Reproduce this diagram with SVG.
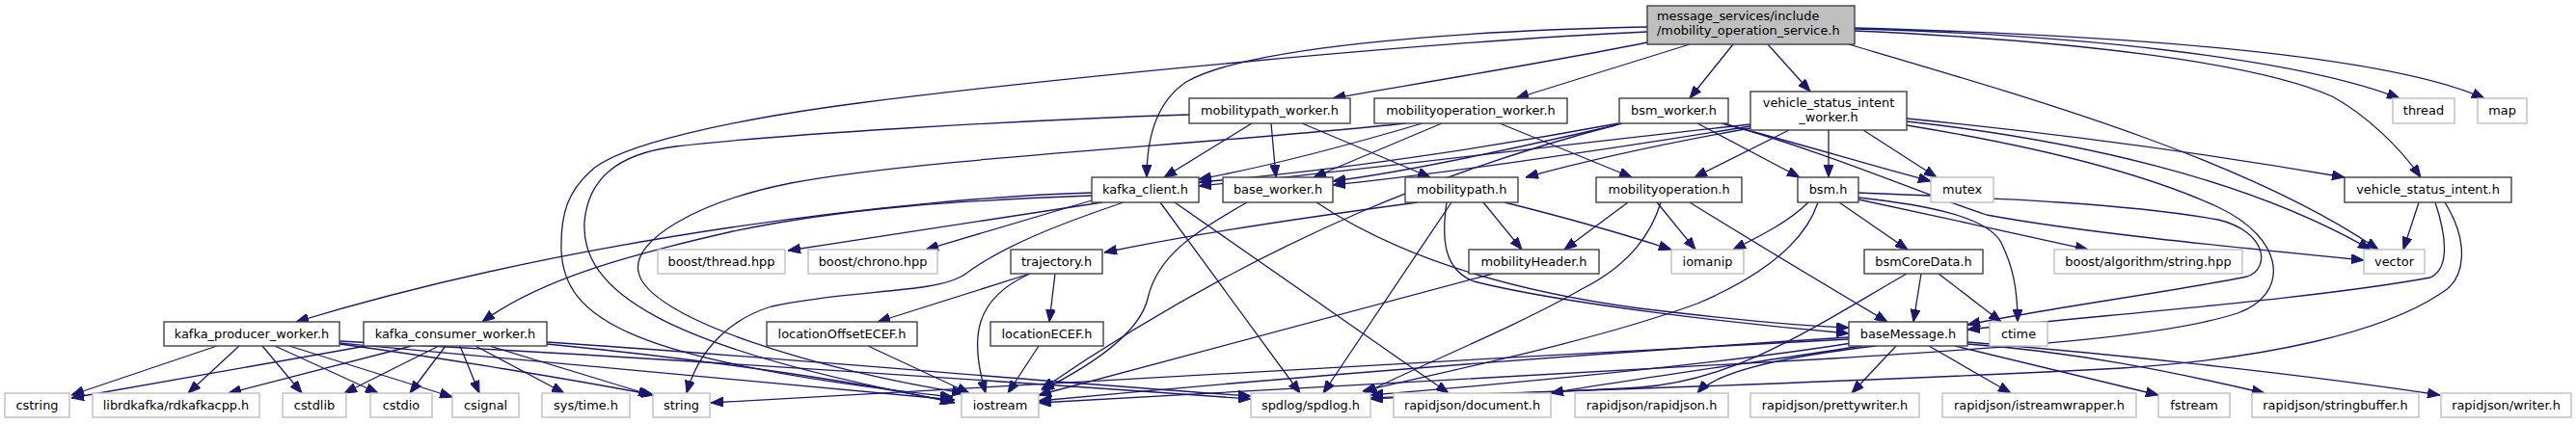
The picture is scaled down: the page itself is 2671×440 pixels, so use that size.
<svg xmlns="http://www.w3.org/2000/svg" width="2671" height="440" viewBox="0 0 2671 440">
<style>
.node rect{fill:#ffffff;stroke:#404040;stroke-width:1.4}
.ext rect{fill:#ffffff;stroke:#bfbfbf;stroke-width:1.4}
.root rect{fill:#bfbfbf;stroke:#404040;stroke-width:1.4}
text{font-family:"DejaVu Sans","Noto Sans",sans-serif;font-size:12.9px;fill:#000000;text-anchor:middle}
text.l{text-anchor:start}
#edges path{fill:none;stroke:#191970;stroke-width:1.3;marker-end:url(#arr)}
</style>
<defs>
<marker id="arr" markerWidth="13" markerHeight="10" refX="13" refY="5" orient="auto" markerUnits="userSpaceOnUse"><path d="M0,0 L13,5 L0,10 z" fill="#191970" stroke="#191970" stroke-width="1"/></marker>
</defs>
<rect width="2671" height="440" fill="#ffffff"/>
<g id="edges">
<path d="M1708,28 C1500,32 1290,50 1230,85 C1200,105 1189,140 1189,184"/>
<path d="M1708,33 C1500,42 1100,80 890,107 C760,124 640,150 612,178 C590,198 581,220 582,260 C585,330 650,375 988,412"/>
<path d="M1708,44 C1620,62 1480,85 1382,102"/>
<path d="M1752,46 L1572,102"/>
<path d="M1797,46 L1752,102"/>
<path d="M1833,46 L1877,95"/>
<path d="M1923,30 C2150,36 2380,60 2488,102"/>
<path d="M1923,29 C2250,38 2480,60 2576,102"/>
<path d="M1923,32 C2150,42 2340,65 2418,100 C2455,120 2490,155 2510,184"/>
<path d="M1917,46 C2100,100 2330,165 2466,259"/>
<path d="M1298,128 L1207,184"/>
<path d="M1318,128 L1323,184"/>
<path d="M1350,128 L1483,184"/>
<path d="M1233,119 C1050,125 800,140 700,152 C640,160 610,185 606,230 C602,300 680,360 988,417"/>
<path d="M1475,128 C1400,150 1320,172 1243,186"/>
<path d="M1495,128 L1362,184"/>
<path d="M1555,128 L1692,184"/>
<path d="M1458,128 C1250,150 950,165 820,190 C720,210 655,250 662,282 C670,330 850,385 1000,408"/>
<path d="M1678,128 C1550,152 1380,178 1243,189"/>
<path d="M1675,130 C1580,152 1460,178 1382,188"/>
<path d="M1760,128 L1866,184"/>
<path d="M1785,128 C1870,150 1940,172 2002,188"/>
<path d="M1682,128 C1520,170 1320,240 1080,404"/>
<path d="M1787,128 C1900,160 1990,200 2060,223 C2150,240 2300,255 2451,270"/>
<path d="M1815,129 C1600,152 1400,178 1243,193"/>
<path d="M1815,131 C1650,158 1480,182 1382,192"/>
<path d="M1815,133 C1720,150 1640,168 1582,184"/>
<path d="M1855,135 L1757,184"/>
<path d="M1896,135 L1896,184"/>
<path d="M1932,135 L2008,184"/>
<path d="M1977,123 C2200,145 2350,170 2431,184"/>
<path d="M1977,126 C2150,145 2330,185 2458,259"/>
<path d="M1977,130 C2100,150 2220,178 2300,215 C2370,248 2375,305 2320,325 C2250,348 2100,360 1900,372 C1600,390 1300,405 1077,418"/>
<path d="M1875,210 C1855,230 1825,245 1797,259"/>
<path d="M1907,210 L1978,259"/>
<path d="M1885,210 C1872,250 1830,285 1760,315 C1650,355 1500,385 1413,406"/>
<path d="M1927,205 C2000,213 2058,225 2074,250 C2087,275 2092,300 2092,334"/>
<path d="M1927,207 C1990,220 2100,245 2165,259"/>
<path d="M1927,200 C2050,205 2200,210 2300,228 C2350,240 2355,278 2330,287 C2250,303 2110,322 2040,337"/>
<path d="M2508,210 L2492,259"/>
<path d="M2525,210 C2535,240 2542,278 2520,288 C2400,310 2200,325 2040,342"/>
<path d="M2535,210 C2560,250 2558,290 2530,305 C2470,345 2350,372 2200,382 C1900,398 1600,406 1421,413"/>
<path d="M1470,210 C1380,222 1250,240 1145,262"/>
<path d="M1538,210 L1578,259"/>
<path d="M1560,210 C1620,225 1690,245 1733,259"/>
<path d="M1505,210 L1372,408"/>
<path d="M1500,210 C1494,250 1498,280 1528,292 C1620,315 1800,336 1917,346"/>
<path d="M1688,210 L1622,259"/>
<path d="M1718,210 L1758,259"/>
<path d="M1722,210 C1710,250 1680,280 1640,300 C1570,340 1470,380 1415,408"/>
<path d="M1752,210 C1800,240 1900,300 1957,334"/>
<path d="M1365,210 C1440,260 1550,300 1700,320 C1800,332 1860,338 1917,340"/>
<path d="M1293,210 C1240,240 1200,265 1190,310 C1180,350 1120,385 1080,405"/>
<path d="M1132,200 C950,205 600,245 307,334"/>
<path d="M1132,203 C1000,208 880,215 760,240 C650,265 560,290 500,334"/>
<path d="M1143,210 L817,260"/>
<path d="M1132,208 L960,259"/>
<path d="M1203,210 L1348,408"/>
<path d="M1218,210 L1502,408"/>
<path d="M1165,210 C1100,232 1040,255 1000,285 C970,305 880,300 800,318 C760,330 725,360 712,408"/>
<path d="M225,359 L74,410"/>
<path d="M248,359 L195,408"/>
<path d="M272,359 L313,408"/>
<path d="M285,359 L392,408"/>
<path d="M300,359 L469,412"/>
<path d="M352,357 C450,370 600,395 678,410"/>
<path d="M352,356 C600,378 850,402 990,415"/>
<path d="M352,354 C700,372 1100,400 1297,414"/>
<path d="M380,359 L74,413"/>
<path d="M427,359 L237,408"/>
<path d="M455,359 L357,408"/>
<path d="M462,359 L425,408"/>
<path d="M477,359 L497,408"/>
<path d="M493,359 L585,408"/>
<path d="M508,359 L675,410"/>
<path d="M567,357 C750,375 900,398 990,418"/>
<path d="M567,355 C800,370 1100,398 1297,411"/>
<path d="M900,359 L1005,408"/>
<path d="M1068,284 L910,334"/>
<path d="M1094,284 L1088,334"/>
<path d="M1068,284 C1010,310 1005,350 1022,408"/>
<path d="M1077,359 L1045,408"/>
<path d="M1548,284 L1077,410"/>
<path d="M1992,284 L1984,334"/>
<path d="M2010,284 L2075,334"/>
<path d="M1977,284 C1880,340 1800,395 1700,402 C1600,408 1500,410 1421,414"/>
<path d="M1917,350 C1600,370 1300,395 1077,416"/>
<path d="M1917,352 C1500,375 1000,400 737,418"/>
<path d="M1920,356 C1800,375 1600,395 1421,410"/>
<path d="M1930,359 C1850,372 1700,392 1608,408"/>
<path d="M1945,359 C1850,370 1780,385 1760,408"/>
<path d="M1966,359 L1920,408"/>
<path d="M2000,359 L2085,408"/>
<path d="M2027,359 L2238,410"/>
<path d="M2040,357 C2150,365 2250,385 2348,408"/>
<path d="M2040,355 C2200,368 2400,390 2530,410"/>
</g>
<g id="n_root" class="root"><rect x="1708" y="6" width="215" height="40"/><text class="l" x="1718" y="21">message_services/include</text><text class="l" x="1718" y="36">/mobility_operation_service.h</text></g>
<g id="n_mpw" class="node"><rect x="1233" y="102" width="167" height="26"/><text x="1316.5" y="119">mobilitypath_worker.h</text></g>
<g id="n_mow" class="node"><rect x="1425" y="102" width="200" height="26"/><text x="1525" y="119">mobilityoperation_worker.h</text></g>
<g id="n_bw" class="node"><rect x="1679" y="102" width="113" height="26"/><text x="1735.5" y="119">bsm_worker.h</text></g>
<g id="n_vsiw" class="node"><rect x="1815" y="95" width="162" height="40"/><text x="1896" y="111">vehicle_status_intent</text><text x="1896" y="126">_worker.h</text></g>
<g id="n_thread" class="ext"><rect x="2481" y="102" width="64" height="26"/><text x="2513" y="119">thread</text></g>
<g id="n_map" class="ext"><rect x="2569" y="102" width="51" height="26"/><text x="2594.5" y="119">map</text></g>
<g id="n_kc" class="node"><rect x="1132" y="184" width="111" height="26"/><text x="1187.5" y="201">kafka_client.h</text></g>
<g id="n_basew" class="node"><rect x="1268" y="184" width="114" height="26"/><text x="1325" y="201">base_worker.h</text></g>
<g id="n_mp" class="node"><rect x="1457" y="184" width="117" height="26"/><text x="1515.5" y="201">mobilitypath.h</text></g>
<g id="n_mo" class="node"><rect x="1655" y="184" width="151" height="26"/><text x="1730.5" y="201">mobilityoperation.h</text></g>
<g id="n_bsm" class="node"><rect x="1864" y="184" width="63" height="26"/><text x="1895.5" y="201">bsm.h</text></g>
<g id="n_mutex" class="ext"><rect x="2002" y="184" width="65" height="26"/><text x="2034.5" y="201">mutex</text></g>
<g id="n_vsi" class="node"><rect x="2431" y="184" width="173" height="26"/><text x="2517.5" y="201">vehicle_status_intent.h</text></g>
<g id="n_bth" class="ext"><rect x="682" y="259" width="132" height="25"/><text x="748" y="276">boost/thread.hpp</text></g>
<g id="n_bch" class="ext"><rect x="838" y="259" width="134" height="25"/><text x="905" y="276">boost/chrono.hpp</text></g>
<g id="n_traj" class="node"><rect x="1048" y="259" width="95" height="25"/><text x="1095.5" y="276">trajectory.h</text></g>
<g id="n_mh" class="node"><rect x="1523" y="259" width="135" height="25"/><text x="1590.5" y="276">mobilityHeader.h</text></g>
<g id="n_iomanip" class="ext"><rect x="1733" y="259" width="75" height="25"/><text x="1770.5" y="276">iomanip</text></g>
<g id="n_bcd" class="node"><rect x="1933" y="259" width="123" height="25"/><text x="1994.5" y="276">bsmCoreData.h</text></g>
<g id="n_balg" class="ext"><rect x="2130" y="259" width="195" height="25"/><text x="2227.5" y="276">boost/algorithm/string.hpp</text></g>
<g id="n_vector" class="ext"><rect x="2451" y="259" width="63" height="25"/><text x="2482.5" y="276">vector</text></g>
<g id="n_kpw" class="node"><rect x="170" y="334" width="182" height="25"/><text x="261" y="351">kafka_producer_worker.h</text></g>
<g id="n_kcw" class="node"><rect x="377" y="334" width="190" height="25"/><text x="472" y="351">kafka_consumer_worker.h</text></g>
<g id="n_loe" class="node"><rect x="795" y="334" width="156" height="25"/><text x="873" y="351">locationOffsetECEF.h</text></g>
<g id="n_le" class="node"><rect x="1027" y="334" width="117" height="25"/><text x="1085.5" y="351">locationECEF.h</text></g>
<g id="n_bm" class="node"><rect x="1917" y="334" width="123" height="25"/><text x="1978.5" y="351">baseMessage.h</text></g>
<g id="n_ctime" class="ext"><rect x="2063" y="334" width="60" height="25"/><text x="2093" y="351">ctime</text></g>
<g id="n_cstring" class="ext"><rect x="5" y="408" width="67" height="25"/><text x="38.5" y="425">cstring</text></g>
<g id="n_librd" class="ext"><rect x="96" y="408" width="173" height="25"/><text x="182.5" y="425">librdkafka/rdkafkacpp.h</text></g>
<g id="n_cstdlib" class="ext"><rect x="293" y="408" width="66" height="25"/><text x="326" y="425">cstdlib</text></g>
<g id="n_cstdio" class="ext"><rect x="384" y="408" width="64" height="25"/><text x="416" y="425">cstdio</text></g>
<g id="n_csignal" class="ext"><rect x="469" y="408" width="69" height="25"/><text x="503.5" y="425">csignal</text></g>
<g id="n_systime" class="ext"><rect x="562" y="408" width="91" height="25"/><text x="607.5" y="425">sys/time.h</text></g>
<g id="n_string" class="ext"><rect x="677" y="408" width="59" height="25"/><text x="706.5" y="425">string</text></g>
<g id="n_iostream" class="ext"><rect x="997" y="408" width="80" height="25"/><text x="1037" y="425">iostream</text></g>
<g id="n_spdlog" class="ext"><rect x="1297" y="408" width="124" height="25"/><text x="1359" y="425">spdlog/spdlog.h</text></g>
<g id="n_rdoc" class="ext"><rect x="1445" y="408" width="163" height="25"/><text x="1526.5" y="425">rapidjson/document.h</text></g>
<g id="n_rrapid" class="ext"><rect x="1633" y="408" width="159" height="25"/><text x="1712.5" y="425">rapidjson/rapidjson.h</text></g>
<g id="n_rpretty" class="ext"><rect x="1815" y="408" width="175" height="25"/><text x="1902.5" y="425">rapidjson/prettywriter.h</text></g>
<g id="n_risw" class="ext"><rect x="2014" y="408" width="201" height="25"/><text x="2114.5" y="425">rapidjson/istreamwrapper.h</text></g>
<g id="n_fstream" class="ext"><rect x="2238" y="408" width="74" height="25"/><text x="2275" y="425">fstream</text></g>
<g id="n_rsb" class="ext"><rect x="2335" y="408" width="173" height="25"/><text x="2421.5" y="425">rapidjson/stringbuffer.h</text></g>
<g id="n_rwriter" class="ext"><rect x="2531" y="408" width="135" height="25"/><text x="2598.5" y="425">rapidjson/writer.h</text></g>
</svg>
